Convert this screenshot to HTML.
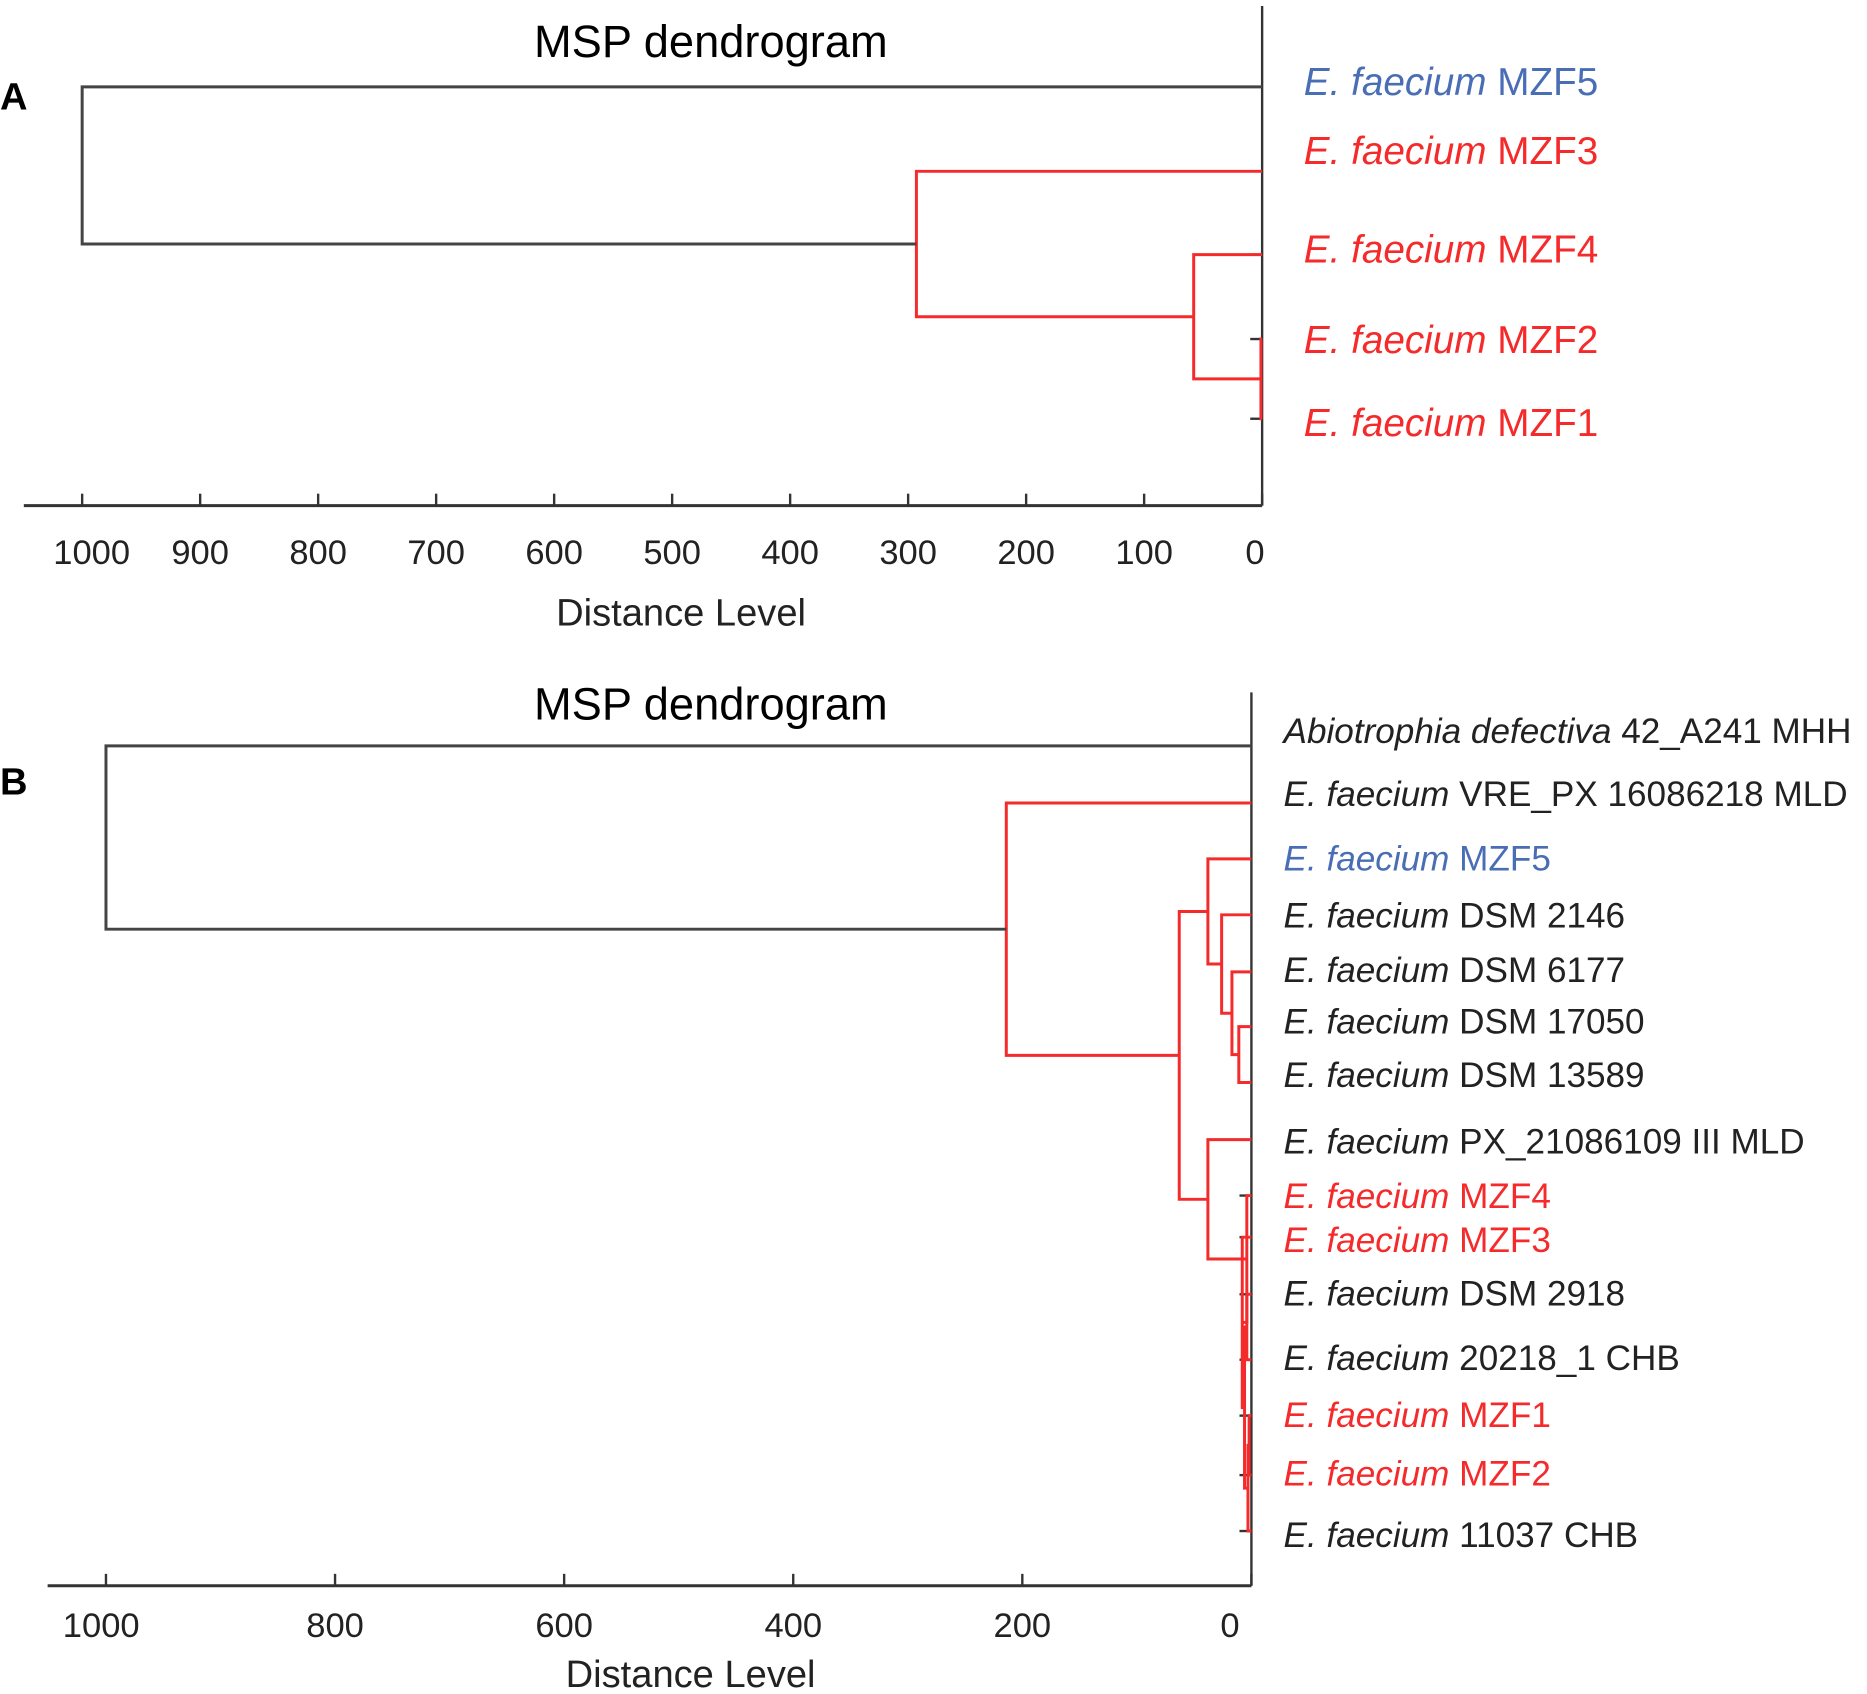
<!DOCTYPE html>
<html><head><meta charset="utf-8"><style>
html,body{margin:0;padding:0;background:#fff}
svg{display:block}
text{font-family:"Liberation Sans",Arial,sans-serif}
</style></head><body>
<svg id="c" width="1867" height="1694" viewBox="0 0 1568 1424" preserveAspectRatio="none" xmlns="http://www.w3.org/2000/svg">
<text x="0" y="92" font-size="32" font-weight="bold">A</text>
<text x="0" y="668" font-size="32" font-weight="bold">B</text>
<text x="597" y="48" font-size="38" text-anchor="middle">MSP dendrogram</text>
<text x="597" y="605" font-size="38" text-anchor="middle">MSP dendrogram</text>
<text x="572" y="526" font-size="32" text-anchor="middle" fill="#222">Distance Level</text>
<text x="580" y="1418" font-size="32" text-anchor="middle" fill="#222">Distance Level</text>
</svg>
<script>
// Panel A data
const aLeaves = ['MZF5','MZF3','MZF4','MZF2','MZF1'];
const aLeafColors = ['#4a6eb5','#f52a2a','#f52a2a','#f52a2a','#f52a2a'];
const aMerges = [['MZF2','MZF1',1],['MZF4','n0',58],['MZF3','n1',293],['MZF5','n2',1000]];
const aMergeColors = ['#f52a2a','#f52a2a','#f52a2a','#444'];
const aTicks = [1000,900,800,700,600,500,400,300,200,100,0];
// Panel B data
const bLeaves = ['Abio','VRE','MZF5','DSM2146','DSM6177','DSM17050','DSM13589','PX','MZF4','MZF3','DSM2918','C20218','MZF1','MZF2','C11037'];
const bLabels = [['Abiotrophia defectiva','42_A241  MHH'],['E. faecium','VRE_PX  16086218  MLD'],['E. faecium','MZF5'],['E. faecium','DSM  2146'],['E. faecium','DSM  6177'],['E. faecium','DSM  17050'],['E. faecium','DSM  13589'],['E. faecium','PX_21086109  III  MLD'],['E. faecium','MZF4'],['E. faecium','MZF3'],['E. faecium','DSM  2918'],['E. faecium','20218_1  CHB'],['E. faecium','MZF1'],['E. faecium','MZF2'],['E. faecium','11037  CHB']];
const bLeafColors = ['#222','#222','#4a6eb5','#222','#222','#222','#222','#222','#f52a2a','#f52a2a','#222','#222','#f52a2a','#f52a2a','#222'];
const bMerges = [['DSM17050','DSM13589',11],['DSM6177','n0',17],['DSM2146','n1',26],['MZF5','n2',38],
 ['MZF1','MZF2',2],['n4','C11037',3],['DSM2918','C20218',4],['n6','n5',6],['MZF3','n7',8],['MZF4','n8',4],['PX','n9',38],
 ['n3','n10',63],['VRE','n11',214],['Abio','n12',1000]];
const bMergeColors = ['#f52a2a','#f52a2a','#f52a2a','#f52a2a','#f52a2a','#f52a2a','#f52a2a','#f52a2a','#f52a2a','#f52a2a','#f52a2a','#f52a2a','#f52a2a','#444'];
const bTicks = [1000,800,600,400,200,0];

// layout (not data)
const aLayout = {x0:1060,x1000:69,axisTop:5,axisY:425,axisLeft:20,leafY:[73,144,214,285,352],labelX:1095,labelY:[68,126,209,285,355],fs:32.5,tickLabelY:474,tickFs:29,off1000:8,off0:-6};
const bLayout = {x0:1051,x1000:89,axisTop:582,axisY:1333,axisLeft:40,leafY:[627,675,722,769,817,863,910,958,1005,1040,1088,1143,1190,1240,1287],labelX:1078,labelY:[614,667,721,769,815,858,903,959,1005,1042,1087,1141,1189,1238,1290],fs:29.5,tickLabelY:1376,tickFs:29,off1000:-4,off0:-18};

const svg=document.getElementById('c');
const NS='http://www.w3.org/2000/svg';
function mk(tag,attrs){const e=document.createElementNS(NS,tag);for(const k in attrs)e.setAttribute(k,attrs[k]);svg.appendChild(e);return e;}

function drawPanel(p,leaves,merges,mcolors,ticks,leafColors,labels,L){
  const xs=d=>L.x0+(L.x1000-L.x0)*d/1000;
  let ax=mk('line',{x1:L.x0,y1:L.axisTop,x2:L.x0,y2:L.axisY,stroke:'#333','stroke-width':2});
  
  
  let hx=mk('line',{x1:L.axisLeft,y1:L.axisY,x2:L.x0,y2:L.axisY,stroke:'#333','stroke-width':2.5});
  
  
  ticks.forEach(t=>{
    const tk=mk('line',{x1:xs(t),y1:L.axisY,x2:xs(t),y2:L.axisY-10,stroke:'#333','stroke-width':2});
    
    
    const tl=mk('text',{x:xs(t)+(t===1000?L.off1000:0)+(t===0?L.off0:0),y:L.tickLabelY,'font-size':L.tickFs,'text-anchor':'middle',fill:'#222'});
    tl.textContent=t;
    
    
  });
  const pos={};
  leaves.forEach((n,i)=>{
    pos[n]={y:L.leafY[i],d:0};
    const lt=mk('line',{x1:L.x0-10,y1:L.leafY[i],x2:L.x0,y2:L.leafY[i],stroke:'#333','stroke-width':2});
    
    
    const t=mk('text',{x:L.labelX,y:L.labelY[i]+L.fs*0.36,'font-size':L.fs,fill:leafColors[i]});
    const s1=document.createElementNS(NS,'tspan');s1.setAttribute('font-style','italic');s1.textContent=labels[i][0]+' ';t.appendChild(s1);
    const s2=document.createElementNS(NS,'tspan');s2.textContent=labels[i][1];t.appendChild(s2);
    t.setAttribute('xml:space','preserve');
    
    
  });
  merges.forEach((m,i)=>{
    const a=pos[m[0]],b=pos[m[1]],d=m[2],x=xs(d),col=mcolors[i];
    const pth=mk('path',{d:`M${xs(a.d)},${a.y}H${x}V${b.y}H${xs(b.d)}`,fill:'none',stroke:col,'stroke-width':2.5});
    
    
    pos['n'+i]={y:(a.y+b.y)/2,d:d};
  });
}
const aLabels=aLeaves.map(n=>['E. faecium',n]);
drawPanel('panel-a',aLeaves,aMerges,aMergeColors,aTicks,aLeafColors,aLabels,aLayout);
drawPanel('panel-b',bLeaves,bMerges,bMergeColors,bTicks,bLeafColors,bLabels,bLayout);
</script>
</body></html>
